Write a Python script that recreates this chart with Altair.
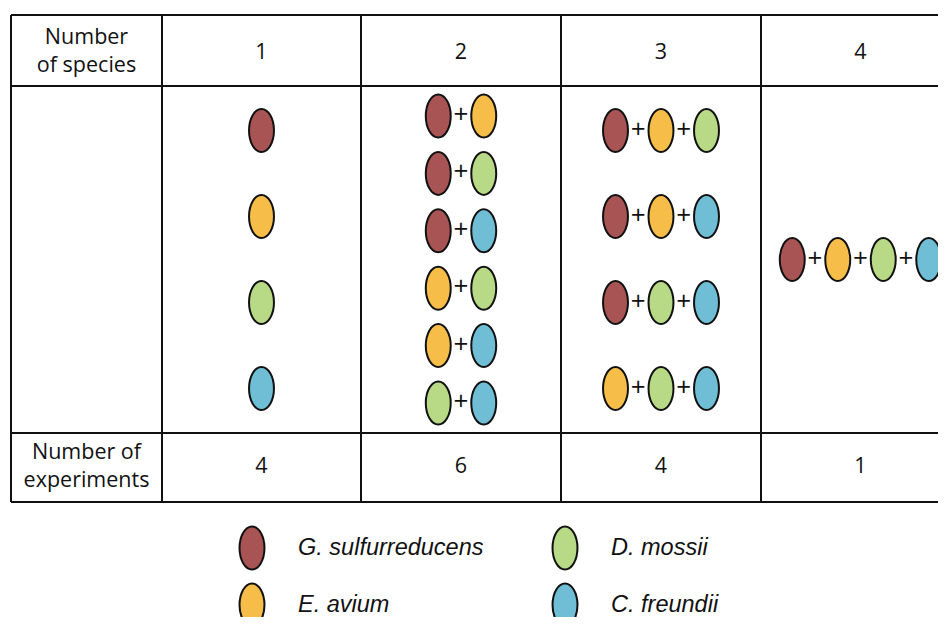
import altair as alt
import pandas as pd

# ---------------- data ----------------
species = ["G. sulfurreducens", "E. avium", "D. mossii", "C. freundii"]
species_colors = ["#A85454", "#F6BE48", "#B8D985", "#6FBED6"]
species_counts = [1, 2, 3, 4]
experiments = [4, 6, 4, 1]
G, E, D, C = species
combos_by_count = [
    [[G], [E], [D], [C]],
    [[G, E], [G, D], [G, C], [E, D], [E, C], [D, C]],
    [[G, E, D], [G, E, C], [G, D, C], [E, D, C]],
    [[G, E, D, C]],
]
header_label = "Number\nof species"
footer_label = "Number of\nexperiments"

# ---------------- layout ----------------
W, H = 930, 609
col_edges = [11, 162, 361, 561, 761, 960]
row_edges = [15, 86, 433, 502]
row_step = {1: 0, 4: 86, 6: 57.4}
x_step = 45.5
body_mid = (row_edges[1] + row_edges[2]) / 2
head_mid = (row_edges[0] + row_edges[1]) / 2
foot_mid = (row_edges[2] + row_edges[3]) / 2
legend_x0, legend_dx, legend_text_dx = 252, 313, 46
legend_y0, legend_dy = 548, 57

xs = alt.Scale(domain=[8, 8 + W], nice=False, zero=False)
ys = alt.Scale(domain=[8, 8 + H], nice=False, zero=False, reverse=True)
fill_scale = alt.Scale(domain=species, range=species_colors)

ELLIPSE = "M 0 -1 A 0.58 1 0 1 1 0 1 A 0.58 1 0 1 1 0 -1 Z"

# ellipses and plus signs
ell, plus = [], []
for ci, combo_list in enumerate(combos_by_count):
    cx = (col_edges[ci + 1] + col_edges[ci + 2]) / 2
    m = len(combo_list)
    for ri, combo in enumerate(combo_list):
        cy = body_mid + (ri - (m - 1) / 2) * row_step[m]
        k = len(combo)
        for j, sp in enumerate(combo):
            x = cx + (j - (k - 1) / 2) * x_step
            ell.append(dict(x=x, y=cy, species=sp))
            if j > 0:
                plus.append(dict(x=x - x_step / 2, y=cy, t="+"))

# legend
for i, sp in enumerate(species):
    c, r = i // 2, i % 2
    ell.append(dict(x=legend_x0 + c * legend_dx, y=legend_y0 + r * legend_dy, species=sp))
leg_text = pd.DataFrame([
    dict(x=legend_x0 + (i // 2) * legend_dx + legend_text_dx,
         y=legend_y0 + (i % 2) * legend_dy, t=sp)
    for i, sp in enumerate(species)
])

ell_df = pd.DataFrame(ell)
plus_df = pd.DataFrame(plus)

# table lines
lines = []
for y in row_edges:
    lines.append(dict(x=col_edges[0], x2=col_edges[-1], y=y, y2=y))
for x in col_edges:
    lines.append(dict(x=x, x2=x, y=row_edges[0], y2=row_edges[-1]))
lines_df = pd.DataFrame(lines)

# cell texts
label_x = (col_edges[0] + col_edges[1]) / 2
labels_df = pd.DataFrame([dict(x=label_x, y=head_mid, t=header_label),
                          dict(x=label_x, y=foot_mid - 2, t=footer_label)])
cells = []
for ci, (n, e) in enumerate(zip(species_counts, experiments)):
    cx = (col_edges[ci + 1] + col_edges[ci + 2]) / 2
    cells.append(dict(x=cx, y=head_mid + 2, t=str(n)))
    cells.append(dict(x=cx, y=foot_mid - 1, t=str(e)))
cells_df = pd.DataFrame(cells)

X = lambda f="x": alt.X(f"{f}:Q", scale=xs, axis=None)
Y = lambda f="y": alt.Y(f"{f}:Q", scale=ys, axis=None)

rules = alt.Chart(lines_df).mark_rule(color="#111111", strokeWidth=2).encode(
    x=X(), x2="x2:Q", y=Y(), y2="y2:Q")

label_text = alt.Chart(labels_df).mark_text(
    font="Open Sans", fontSize=21.5, color="#111111", lineBreak="\n",
    lineHeight=28, align="center", baseline="middle", dy=-13).encode(
    x=X(), y=Y(), text="t:N")

cell_text = alt.Chart(cells_df).mark_text(
    font="Open Sans", fontSize=21.5, color="#111111",
    align="center", baseline="middle").encode(
    x=X(), y=Y(), text="t:N")

plus_text = alt.Chart(plus_df).mark_text(
    font="Open Sans", fontSize=26, color="#111111", align="center",
    baseline="middle", dy=-1).encode(x=X(), y=Y(), text="t:N")

ellipses = alt.Chart(ell_df).mark_point(
    shape=ELLIPSE, size=43 * 43, filled=True, opacity=1,
    stroke="#111111", strokeWidth=2).encode(
    x=X(), y=Y(), fill=alt.Fill("species:N", scale=fill_scale, legend=None))

legend_text = alt.Chart(leg_text).mark_text(
    font="Liberation Sans", fontSize=23.5, fontStyle="italic", color="#111111",
    align="left", baseline="middle").encode(x=X(), y=Y(), text="t:N")

chart = alt.layer(rules, label_text, cell_text, plus_text, ellipses, legend_text).properties(
    width=W, height=H, padding=0,
    autosize=alt.AutoSizeParams(type="none"),
).configure_view(stroke=None)

chart.save("out.html", embed_options={"renderer": "svg", "actions": False})
